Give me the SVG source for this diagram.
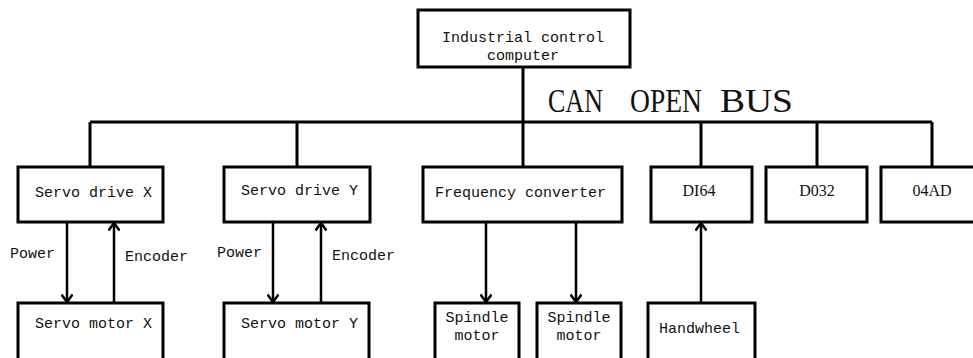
<svg xmlns="http://www.w3.org/2000/svg" width="973" height="358" viewBox="0 0 973 358">
<defs>
<style>
.box{fill:#fff;stroke:#000;stroke-width:3}
.ln{stroke:#000;stroke-width:3;fill:none}
.ar{stroke:#000;stroke-width:2.5;fill:none}
.t{font-family:"Liberation Mono","DejaVu Sans Mono",monospace;font-size:15px;fill:#111}
.s{font-family:"Liberation Serif","DejaVu Serif",serif;font-size:16px;fill:#111}
.m{text-anchor:middle}
.bus{font-family:"Liberation Serif","DejaVu Serif",serif;font-size:33px;fill:#111}
</style>
<marker id="ah" markerUnits="userSpaceOnUse" markerWidth="12" markerHeight="12" viewBox="0 0 12 12" refX="10.5" refY="6" orient="auto">
<path d="M3,0.5 L10.5,6 L3,11.5" fill="none" stroke="#000" stroke-width="2.5"/>
</marker>
</defs>
<rect width="973" height="358" fill="#fff"/>
<g id="connectors">
<path class="ln" d="M523,67 V122 M90,122 H932 M90,122 V167 M297,122 V167 M523,122 V167 M701,122 V167 M817,122 V167 M932,122 V167"/>
<line class="ar" x1="67" y1="222" x2="67" y2="302" marker-end="url(#ah)"/>
<line class="ar" x1="114" y1="303" x2="114" y2="223" marker-end="url(#ah)"/>
<line class="ar" x1="273" y1="222" x2="273" y2="302" marker-end="url(#ah)"/>
<line class="ar" x1="321" y1="303" x2="321" y2="223" marker-end="url(#ah)"/>
<line class="ar" x1="486" y1="222" x2="486" y2="302" marker-end="url(#ah)"/>
<line class="ar" x1="576" y1="222" x2="576" y2="302" marker-end="url(#ah)"/>
<line class="ar" x1="701" y1="303" x2="701" y2="223" marker-end="url(#ah)"/>
<text class="t" x="10" y="258">Power</text>
<text class="t" x="125" y="261">Encoder</text>
<text class="t" x="217" y="257">Power</text>
<text class="t" x="332" y="260">Encoder</text>
</g>
<text class="bus" y="112"><tspan x="548" textLength="55" lengthAdjust="spacingAndGlyphs">CAN</tspan> <tspan x="630" textLength="72" lengthAdjust="spacingAndGlyphs">OPEN</tspan> <tspan x="720" textLength="73" lengthAdjust="spacingAndGlyphs">BUS</tspan></text>
<g id="ipc"><rect class="box" x="418" y="10" width="212" height="57"/><text class="t m" x="523" y="42">Industrial control</text><text class="t m" x="523" y="60">computer</text></g>
<g id="servo-drive-x"><rect class="box" x="18" y="167" width="145" height="55"/><text class="t" x="35" y="197">Servo drive X</text></g>
<g id="servo-drive-y"><rect class="box" x="224" y="167" width="146" height="55"/><text class="t" x="241" y="195">Servo drive Y</text></g>
<g id="freq-conv"><rect class="box" x="423" y="167" width="199" height="55"/><text class="t" x="435" y="197">Frequency converter</text></g>
<g id="di64"><rect class="box" x="651" y="167" width="101" height="55"/><text class="s m" x="699" y="196">DI64</text></g>
<g id="d032"><rect class="box" x="766" y="167" width="101" height="55"/><text class="s m" x="817" y="196">D032</text></g>
<g id="o4ad"><rect class="box" x="881" y="167" width="100" height="55"/><text class="s m" x="932" y="196">04AD</text></g>
<g id="servo-motor-x"><rect class="box" x="18" y="303" width="145" height="70"/><text class="t" x="35" y="328">Servo motor X</text></g>
<g id="servo-motor-y"><rect class="box" x="224" y="303" width="145" height="70"/><text class="t" x="241" y="328">Servo motor Y</text></g>
<g id="spindle-1"><rect class="box" x="435" y="303" width="84" height="70"/><text class="t m" x="477" y="322">Spindle</text><text class="t m" x="477" y="340">motor</text></g>
<g id="spindle-2"><rect class="box" x="537" y="303" width="84" height="70"/><text class="t m" x="579" y="322">Spindle</text><text class="t m" x="579" y="340">motor</text></g>
<g id="handwheel"><rect class="box" x="648" y="303" width="107" height="70"/><text class="t" x="659" y="333">Handwheel</text></g>
</svg>
